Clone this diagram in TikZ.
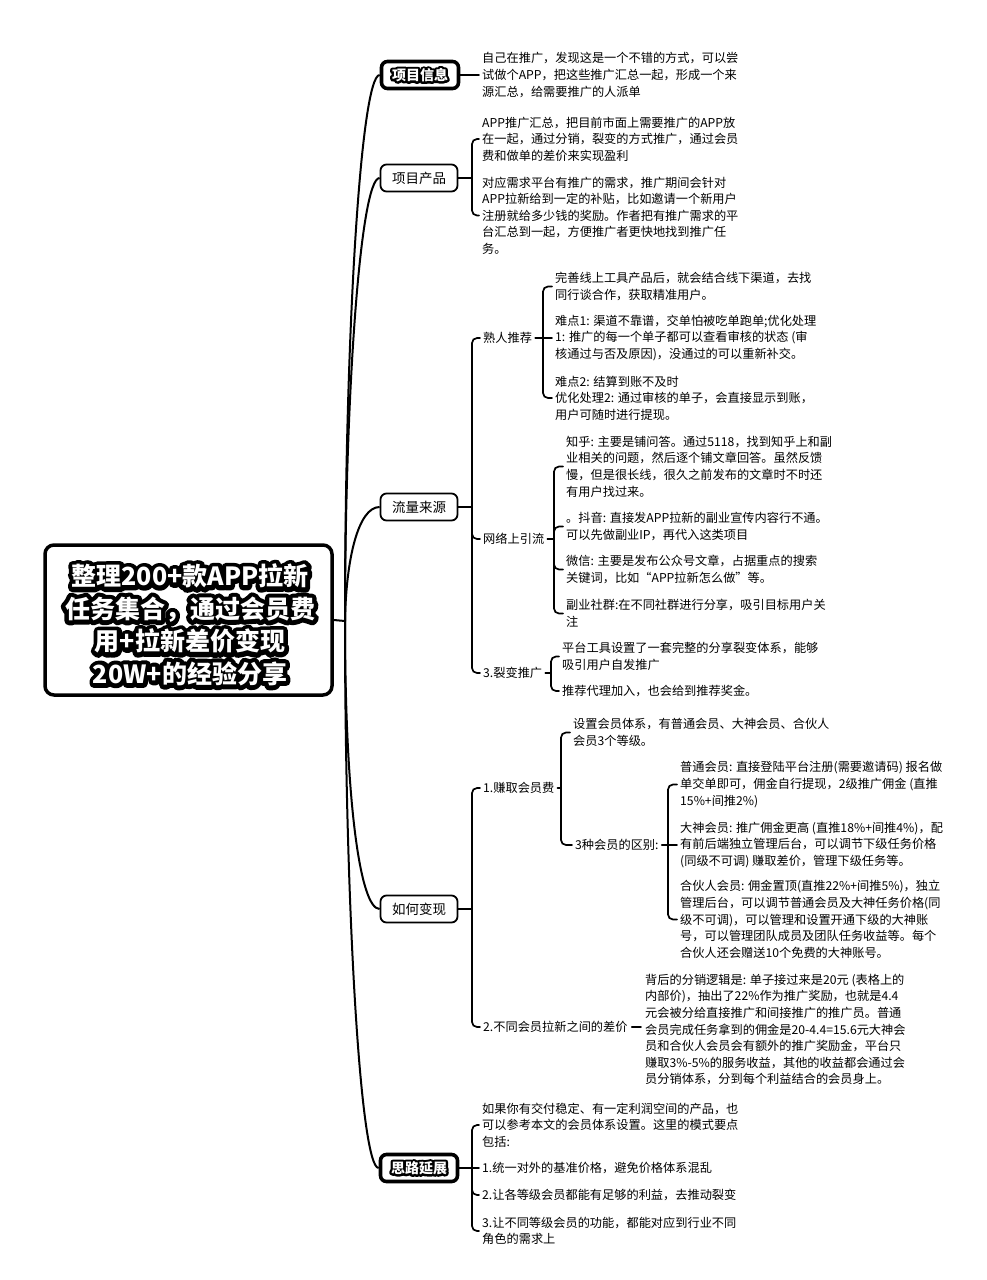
\documentclass[tikz,border=0pt]{standalone}
\usepackage{fontspec}
\setmainfont{Noto Sans CJK SC}
\usetikzlibrary{calc}
\newcommand\tf{\fontsize{12.2}{16.6}\selectfont}
\newcommand\lf{\fontsize{13.5}{16}\selectfont}
\newcommand\hf{\fontsize{14}{16}\selectfont\bfseries}
\newcommand\rf{\fontsize{25}{32.5}\selectfont\bfseries}
\newcommand\outl[4]{\node[olbg,font=#3\addfontfeature{FakeBold=#4}] at (#1) {#2};\node[olfg,font=#3] at (#1) {#2};}
\begin{document}
\begin{tikzpicture}[x=1pt,y=-1pt,
  conn/.style={line width=1.7pt, black, line cap=round},
  trunk/.style={line width=2pt, black},
  br/.style={conn, rounded corners=5pt},
  txt/.style={anchor=west, align=left, inner sep=0pt, font=\tf},
  l1/.style={draw, line width=1.8pt, rounded corners=6pt, minimum width=77pt, minimum height=27pt, inner sep=0pt, font=\lf, fill=white},
  l1h/.style={l1, line width=3.6pt},
  olbg/.style={black, inner sep=0pt, align=center, line join=round, miter limit=1},
  olfg/.style={white, inner sep=0pt, align=center}]
\useasboundingbox[fill=white] (0,0) rectangle (987,1280);

% ---------- root ----------
\node[draw, line width=3.5pt, rounded corners=9pt, minimum width=287pt, minimum height=150pt, fill=white] (root) at (188.5,620) {};
\coordinate (rootc) at (190,625);
\outl{rootc}{整理200+款APP拉新\\任务集合，通过会员费\\用+拉新差价变现\\20W+的经验分享}{\rf}{36}

% ---------- level 1 ----------
\node[l1h] (info) at (420,75) {};
\coordinate (infoc) at (420,75);
\outl{infoc}{项目信息}{\hf}{32}
\node[l1] (prod) at (419,178) {项目产品};
\node[l1] (flow) at (419,507) {流量来源};
\node[l1] (money) at (419,909) {如何变现};
\node[l1h] (ext) at (419,1168) {};
\coordinate (extc) at (419,1168);
\outl{extc}{思路延展}{\hf}{32}

% trunk
\coordinate (J) at (345,621);
\draw[trunk] (root.east) -- (J);
\draw[trunk] (J) .. controls (345,330) and (361,75) .. (info.west);
\draw[trunk] (J) .. controls (345,400) and (360,178) .. (prod.west);
\draw[trunk] (J) .. controls (346,560) and (358,507) .. (flow.west);
\draw[trunk] (J) .. controls (345,800) and (360,909) .. (money.west);
\draw[trunk] (J) .. controls (345,900) and (360,1168) .. (ext.west);

% ---------- 项目信息 ----------
\node[txt] (info1) at (482,75) {自己在推广，发现这是一个不错的方式，可以尝\\试做个APP，把这些推广汇总一起，形成一个来\\源汇总，给需要推广的人派单};
\draw[conn] (info.east) -- ([xshift=-3pt]info1.west);

% ---------- 项目产品 ----------
\node[txt] (prod1) at (482,139) {APP推广汇总，把目前市面上需要推广的APP放\\在一起，通过分销，裂变的方式推广，通过会员\\费和做单的差价来实现盈利};
\node[txt] (prod2) at (482,215.5) {对应需求平台有推广的需求，推广期间会针对\\APP拉新给到一定的补贴，比如邀请一个新用户\\注册就给多少钱的奖励。作者把有推广需求的平\\台汇总到一起，方便推广者更快地找到推广任\\务。};
\coordinate (bprod) at (472,178);
\draw[conn] (prod.east) -- (bprod);
\draw[br] (bprod) |- ([xshift=-3pt]prod1.west);
\draw[br] (bprod) |- ([xshift=-3pt]prod2.west);

% ---------- 流量来源 ----------
\node[txt] (sr) at (483,338) {熟人推荐};
\node[txt] (wl) at (483,539) {网络上引流};
\node[txt] (lb) at (483,673) {3.裂变推广};
\coordinate (bflow) at (472,507);
\draw[conn] (flow.east) -- (bflow);
\draw[br] (bflow) |- ([xshift=-3pt]sr.west);
\draw[br] (bflow) |- ([xshift=-3pt]wl.west);
\draw[br] (bflow) |- ([xshift=-3pt]lb.west);

\node[txt] (srA) at (555,286.5) {完善线上工具产品后，就会结合线下渠道，去找\\同行谈合作，获取精准用户。};
\node[txt] (srB) at (555,338) {难点1: 渠道不靠谱，交单怕被吃单跑单;优化处理\\1: 推广的每一个单子都可以查看审核的状态 (审\\核通过与否及原因)，没通过的可以重新补交。};
\node[txt] (srC) at (555,398) {难点2: 结算到账不及时\\优化处理2: 通过审核的单子，会直接显示到账，\\用户可随时进行提现。};
\coordinate (bsr) at (543,338);
\draw[conn] ([xshift=3pt]sr.east) -- (bsr);
\draw[br] (bsr) |- ([xshift=-3pt]srA.west);
\draw[conn] (bsr) -- ([xshift=-3pt]srB.west);
\draw[br] (bsr) |- ([xshift=-3pt]srC.west);

\node[txt] (wl1) at (566,466.5) {知乎: 主要是铺问答。通过5118，找到知乎上和副\\业相关的问题，然后逐个铺文章回答。虽然反馈\\慢，但是很长线，很久之前发布的文章时不时还\\有用户找过来。};
\node[txt] (wl2) at (566,526.5) {。抖音: 直接发APP拉新的副业宣传内容行不通。\\可以先做副业IP，再代入这类项目};
\node[txt] (wl3) at (566,569.5) {微信: 主要是发布公众号文章，占据重点的搜索\\关键词，比如“APP拉新怎么做”等。};
\node[txt] (wl4) at (566,613.5) {副业社群:在不同社群进行分享，吸引目标用户关\\注};
\coordinate (bwl) at (554,539);
\draw[conn] ([xshift=3pt]wl.east) -- (bwl);
\draw[br] (bwl) |- ([xshift=-3pt]wl1.west);
\draw[br] (bwl) |- ([xshift=-3pt]wl2.west);
\draw[br] (bwl) |- ([xshift=-3pt]wl3.west);
\draw[br] (bwl) |- ([xshift=-3pt]wl4.west);

\node[txt] (lb1) at (562,656.5) {平台工具设置了一套完整的分享裂变体系，能够\\吸引用户自发推广};
\node[txt] (lb2) at (562,691) {推荐代理加入，也会给到推荐奖金。};
\coordinate (blb) at (551,673);
\draw[conn] ([xshift=3pt]lb.east) -- (blb);
\draw[br] (blb) |- ([xshift=-3pt]lb1.west);
\draw[br] (blb) |- ([xshift=-3pt]lb2.west);

% ---------- 如何变现 ----------
\node[txt] (zq) at (483,788) {1.赚取会员费};
\node[txt] (cj) at (483,1027) {2.不同会员拉新之间的差价};
\coordinate (bmoney) at (472,909);
\draw[conn] (money.east) -- (bmoney);
\draw[br] (bmoney) |- ([xshift=-3pt]zq.west);
\draw[br] (bmoney) |- ([xshift=-3pt]cj.west);

\node[txt] (zq1) at (573,732.5) {设置会员体系，有普通会员、大神会员、合伙人\\会员3个等级。};
\node[txt] (qb) at (575,845) {3种会员的区别:};
\coordinate (bzq) at (561,788);
\draw[conn] ([xshift=3pt]zq.east) -- (bzq);
\draw[br] (bzq) |- ([xshift=-3pt]zq1.west);
\draw[br] (bzq) |- ([xshift=-3pt]qb.west);

\node[txt] (qb1) at (680,784.5) {普通会员: 直接登陆平台注册(需要邀请码) 报名做\\单交单即可，佣金自行提现，2级推广佣金 (直推\\15\%+间推2\%)};
\node[txt] (qb2) at (680,845) {大神会员: 推广佣金更高 (直推18\%+间推4\%)，配\\有前后端独立管理后台，可以调节下级任务价格\\(同级不可调) 赚取差价，管理下级任务等。};
\node[txt] (qb3) at (680,919.5) {合伙人会员: 佣金置顶(直推22\%+间推5\%)，独立\\管理后台，可以调节普通会员及大神任务价格(同\\级不可调)，可以管理和设置开通下级的大神账\\号，可以管理团队成员及团队任务收益等。每个\\合伙人还会赠送10个免费的大神账号。};
\coordinate (bqb) at (668,845);
\draw[conn] ([xshift=3pt]qb.east) -- (bqb);
\draw[br] (bqb) |- ([xshift=-3pt]qb1.west);
\draw[conn] (bqb) -- ([xshift=-3pt]qb2.west);
\draw[br] (bqb) |- ([xshift=-3pt]qb3.west);

\node[txt] (cj1) at (645,1029.5) {背后的分销逻辑是: 单子接过来是20元 (表格上的\\内部价)，抽出了22\%作为推广奖励，也就是4.4\\元会被分给直接推广和间接推广的推广员。普通\\会员完成任务拿到的佣金是20-4.4=15.6元大神会\\员和合伙人会员会有额外的推广奖励金，平台只\\赚取3\%-5\%的服务收益，其他的收益都会通过会\\员分销体系，分到每个利益结合的会员身上。};
\draw[conn] ([xshift=4pt]cj.east) -- ([xshift=-4pt]cj.east -| cj1.west);

% ---------- 思路延展 ----------
\node[txt] (sl1) at (482,1125) {如果你有交付稳定、有一定利润空间的产品，也\\可以参考本文的会员体系设置。这里的模式要点\\包括:};
\node[txt] (sl2) at (482,1168) {1.统一对外的基准价格，避免价格体系混乱};
\node[txt] (sl3) at (482,1195) {2.让各等级会员都能有足够的利益，去推动裂变};
\node[txt] (sl4) at (482,1231) {3.让不同等级会员的功能，都能对应到行业不同\\角色的需求上};
\coordinate (bext) at (472,1168);
\draw[conn] (ext.east) -- (bext);
\draw[br] (bext) |- ([xshift=-3pt]sl1.west);
\draw[conn] (bext) -- ([xshift=-3pt]sl2.west);
\draw[br] (bext) |- ([xshift=-3pt]sl3.west);
\draw[br] (bext) |- ([xshift=-3pt]sl4.west);
\end{tikzpicture}
\end{document}
